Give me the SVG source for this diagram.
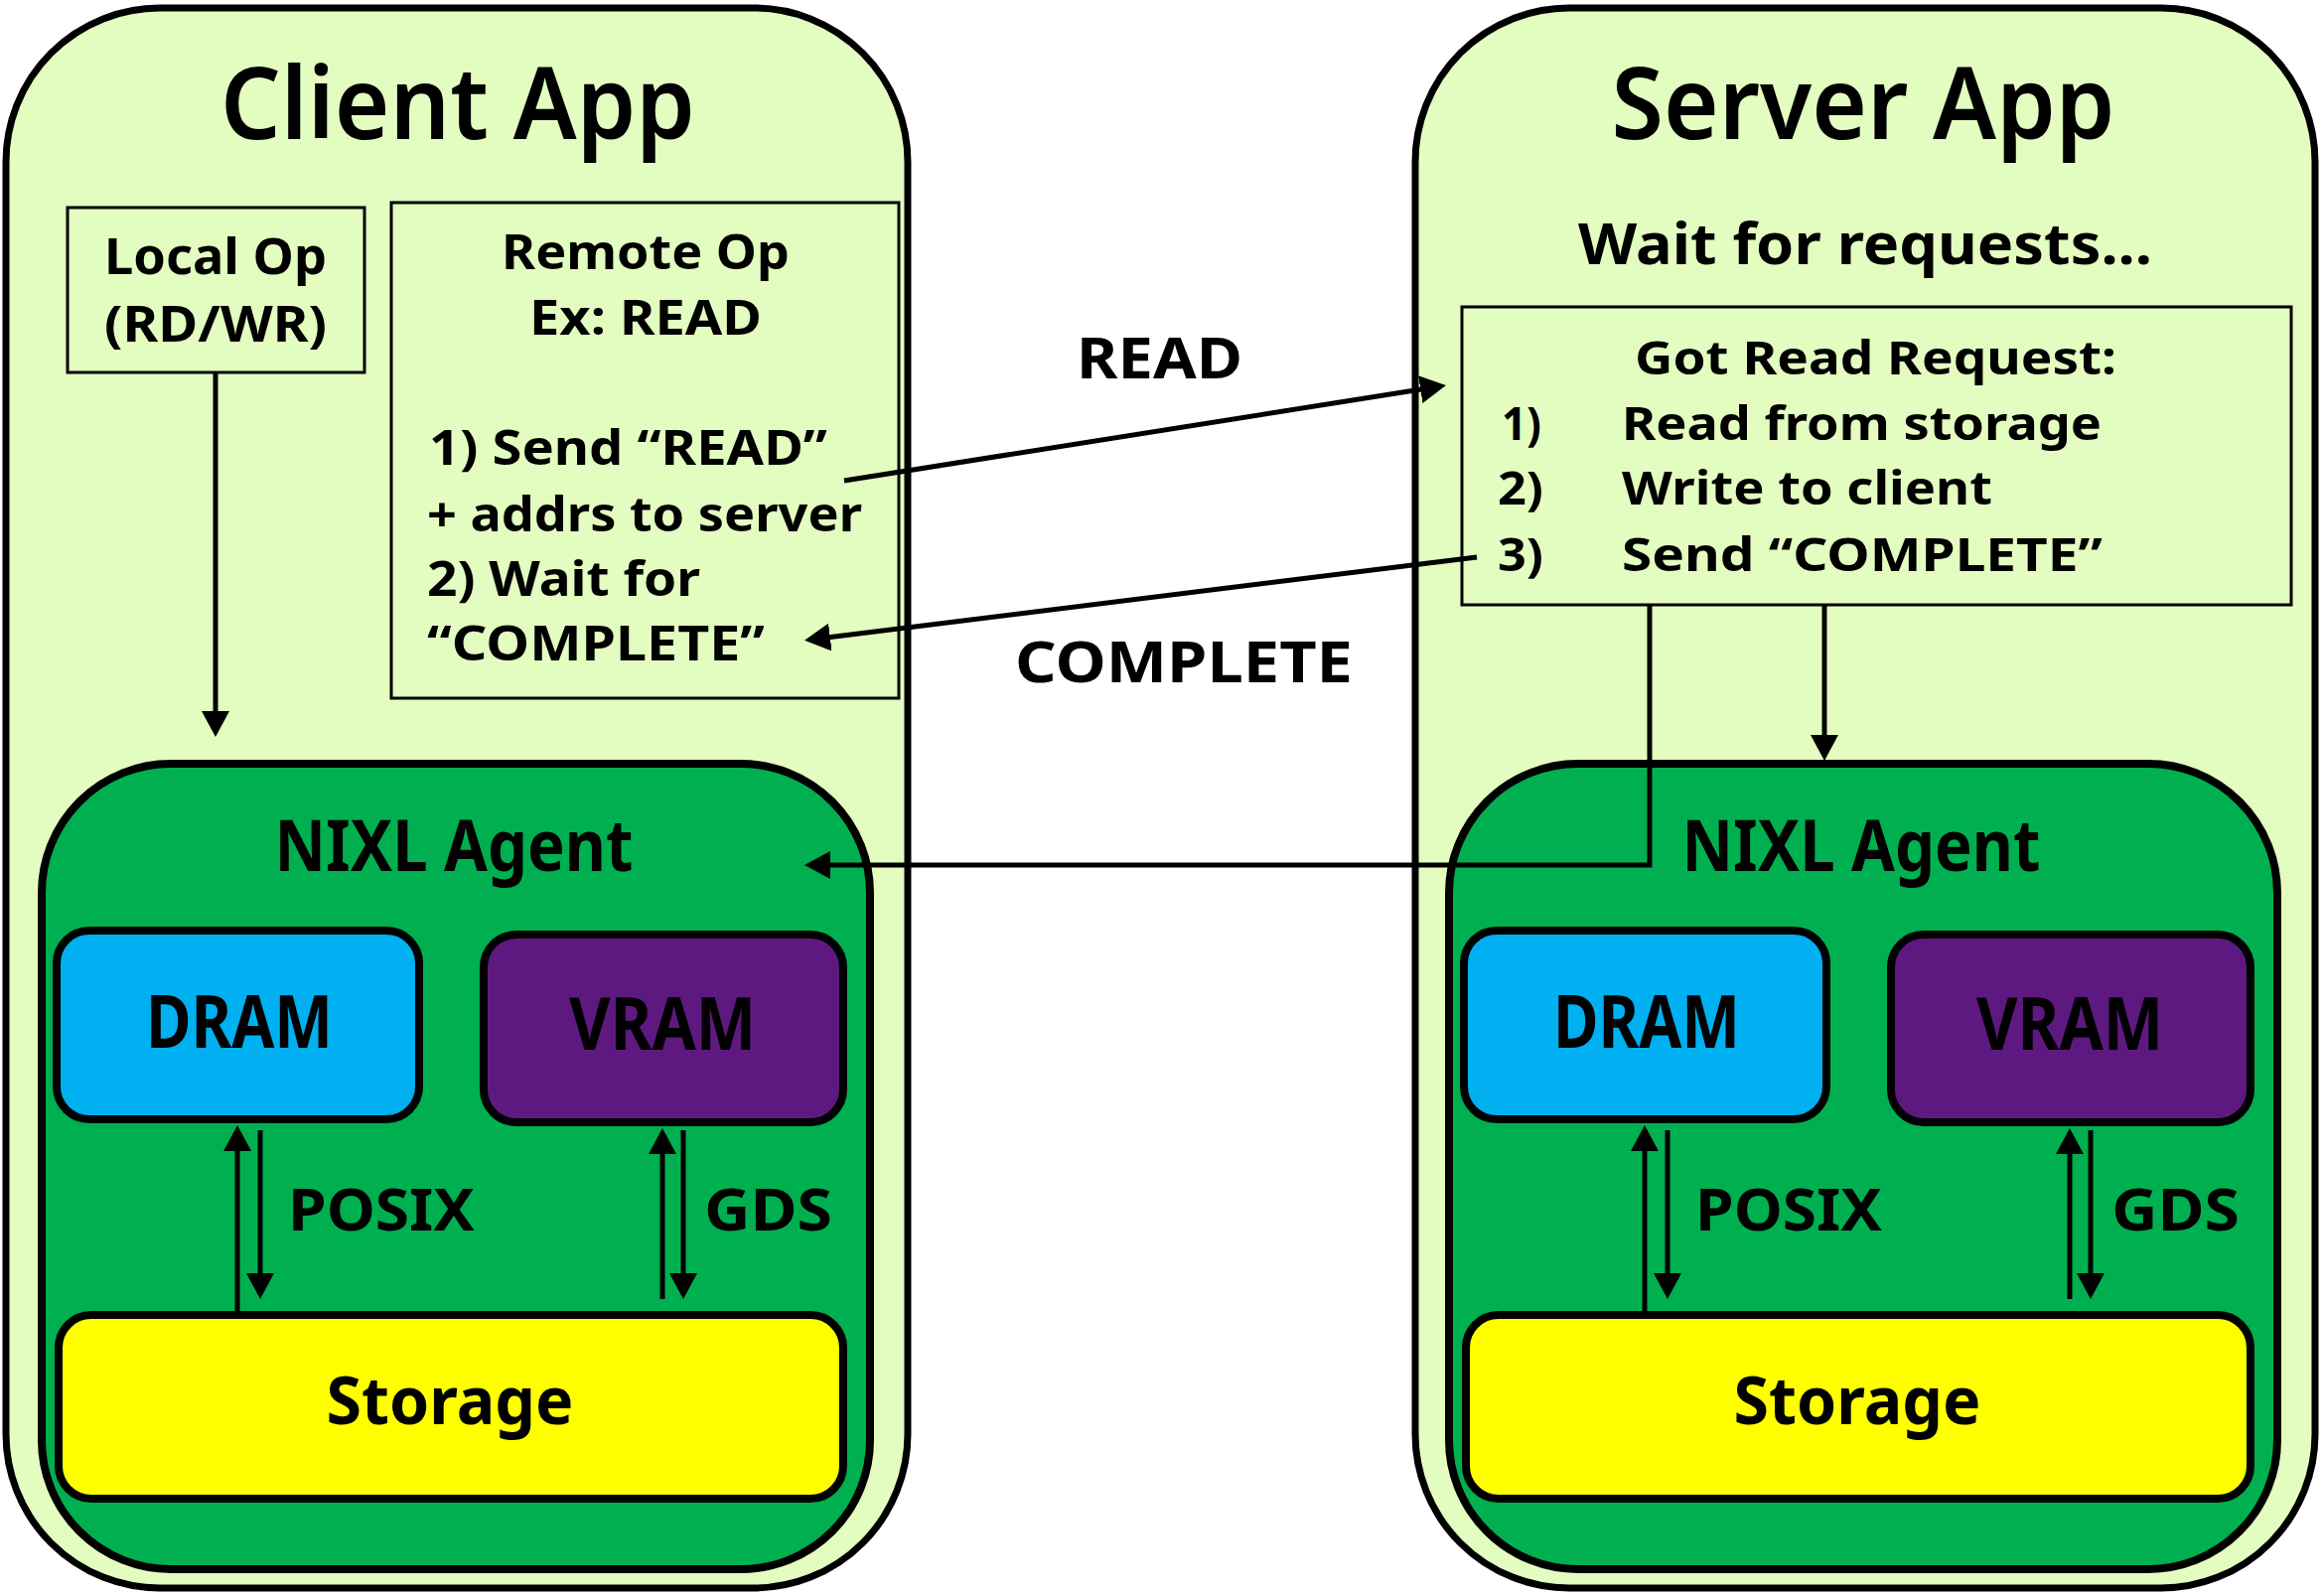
<svg xmlns="http://www.w3.org/2000/svg" width="2339" height="1607" viewBox="0 0 2339 1607">
<style>
text{font-family:"Noto Sans","Open Sans","DejaVu Sans",sans-serif;fill:#000;font-weight:700}
.app{fill:#E3FDC0;stroke:#000;stroke-width:7}
.agent{fill:#00B050;stroke:#000;stroke-width:8}
.mem{stroke:#000;stroke-width:8}
.box{fill:none;stroke:#000;stroke-width:3}
.title{font-size:102px;font-weight:600}
.c{stroke:#000;stroke-width:5;fill:none;marker-end:url(#ah)}
.m{text-anchor:middle}
</style>
<defs>
<marker id="ah" markerUnits="userSpaceOnUse" markerWidth="28" markerHeight="28" refX="20" refY="14" orient="auto">
<path d="M0,0 L26,14 L0,28 z" fill="#000"/>
</marker>
</defs>

<g id="client-app">
<rect class="app" x="6" y="8" width="908" height="1591" rx="155" ry="155"/>
<text class="title m" x="461" y="140" textLength="478" lengthAdjust="spacingAndGlyphs">Client App</text>
</g>

<g id="server-app">
<rect class="app" x="1425" y="8" width="906" height="1591" rx="155" ry="155"/>
<text class="title m" x="1876" y="140" textLength="507" lengthAdjust="spacingAndGlyphs">Server App</text>
<text class="m" x="1878" y="266" font-size="58" textLength="578" lengthAdjust="spacingAndGlyphs">Wait for requests...</text>
</g>

<g id="local-op">
<rect class="box" x="68" y="209" width="299" height="166"/>
<text class="m" x="217" y="276" font-size="51" font-weight="600" textLength="224" lengthAdjust="spacingAndGlyphs">Local Op</text>
<text class="m" x="217" y="344" font-size="51" font-weight="600" textLength="224" lengthAdjust="spacingAndGlyphs">(RD/WR)</text>
</g>

<g id="remote-op">
<rect class="box" x="394" y="204" width="511" height="499"/>
<text class="m" x="650" y="271" font-size="49" textLength="290" lengthAdjust="spacingAndGlyphs">Remote Op</text>
<text class="m" x="650" y="337" font-size="49" textLength="234" lengthAdjust="spacingAndGlyphs">Ex: READ</text>
<text x="432" y="468" font-size="49" textLength="401" lengthAdjust="spacingAndGlyphs">1) Send “READ”</text>
<text x="430" y="535" font-size="49" textLength="438" lengthAdjust="spacingAndGlyphs">+ addrs to server</text>
<text x="430" y="600" font-size="49" textLength="275" lengthAdjust="spacingAndGlyphs">2) Wait for</text>
<text x="430" y="665" font-size="49" textLength="340" lengthAdjust="spacingAndGlyphs">“COMPLETE”</text>
</g>

<g id="read-request">
<rect class="box" x="1472" y="309" width="835" height="300"/>
<text x="1646" y="377" font-size="47" textLength="485" lengthAdjust="spacingAndGlyphs">Got Read Request:</text>
<text x="1512" y="443" font-size="47" textLength="40" lengthAdjust="spacingAndGlyphs">1)</text>
<text x="1633" y="443" font-size="47" textLength="483" lengthAdjust="spacingAndGlyphs">Read from storage</text>
<text x="1508" y="508" font-size="47" textLength="46" lengthAdjust="spacingAndGlyphs">2)</text>
<text x="1633" y="508" font-size="47" textLength="373" lengthAdjust="spacingAndGlyphs">Write to client</text>
<text x="1508" y="575" font-size="47" textLength="46" lengthAdjust="spacingAndGlyphs">3)</text>
<text x="1633" y="575" font-size="47" textLength="484" lengthAdjust="spacingAndGlyphs">Send “COMPLETE”</text>
</g>

<g id="client-agent">
<rect class="agent" x="42" y="769" width="834" height="811" rx="130" ry="130"/>
<text class="m" x="457" y="877" font-size="72" font-weight="600" textLength="361" lengthAdjust="spacingAndGlyphs">NIXL Agent</text>
</g>
<g id="client-dram">
<rect class="mem" fill="#00B0F0" x="57" y="937" width="365" height="190" rx="33" ry="33"/>
<text class="m" x="241" y="1055" font-size="74" textLength="188" lengthAdjust="spacingAndGlyphs">DRAM</text>
</g>
<g id="client-vram">
<rect class="mem" fill="#5E1981" x="487" y="941" width="362" height="189" rx="33" ry="33"/>
<text class="m" x="667" y="1057" font-size="74" textLength="188" lengthAdjust="spacingAndGlyphs">VRAM</text>
</g>
<g id="client-storage">
<rect class="mem" fill="#FFFF00" x="59" y="1324" width="790" height="185" rx="33" ry="33"/>
<text class="m" x="453" y="1434" font-size="66" font-weight="600" textLength="249" lengthAdjust="spacingAndGlyphs">Storage</text>
</g>

<g id="server-agent">
<rect class="agent" x="1459" y="769" width="834" height="811" rx="130" ry="130"/>
<text class="m" x="1874" y="877" font-size="72" font-weight="600" textLength="361" lengthAdjust="spacingAndGlyphs">NIXL Agent</text>
</g>
<g id="server-dram">
<rect class="mem" fill="#00B0F0" x="1474" y="937" width="365" height="190" rx="33" ry="33"/>
<text class="m" x="1658" y="1055" font-size="74" textLength="188" lengthAdjust="spacingAndGlyphs">DRAM</text>
</g>
<g id="server-vram">
<rect class="mem" fill="#5E1981" x="1904" y="941" width="362" height="189" rx="33" ry="33"/>
<text class="m" x="2084" y="1057" font-size="74" textLength="188" lengthAdjust="spacingAndGlyphs">VRAM</text>
</g>
<g id="server-storage">
<rect class="mem" fill="#FFFF00" x="1476" y="1324" width="790" height="185" rx="33" ry="33"/>
<text class="m" x="1870" y="1434" font-size="66" font-weight="600" textLength="249" lengthAdjust="spacingAndGlyphs">Storage</text>
</g>

<g id="connectors">
<line class="c" x1="850" y1="484" x2="1450" y2="389"/>
<line class="c" x1="1487" y1="561" x2="816" y2="644"/>
<line class="c" x1="217" y1="375" x2="217" y2="736"/>
<line class="c" x1="1837" y1="609" x2="1837" y2="760"/>
<polyline class="c" points="1661,609 1661,871 816,871"/>
<line class="c" x1="239" y1="1320" x2="239" y2="1139"/>
<line class="c" x1="262" y1="1138" x2="262" y2="1302"/>
<line class="c" x1="667" y1="1308" x2="667" y2="1142"/>
<line class="c" x1="688" y1="1138" x2="688" y2="1302"/>
<line class="c" x1="1656" y1="1320" x2="1656" y2="1139"/>
<line class="c" x1="1679" y1="1138" x2="1679" y2="1302"/>
<line class="c" x1="2084" y1="1308" x2="2084" y2="1142"/>
<line class="c" x1="2105" y1="1138" x2="2105" y2="1302"/>
<text x="1084" y="381" font-size="57" textLength="167" lengthAdjust="spacingAndGlyphs">READ</text>
<text x="1022" y="687" font-size="57" textLength="340" lengthAdjust="spacingAndGlyphs">COMPLETE</text>
<text x="290" y="1239" font-size="60" textLength="188" lengthAdjust="spacingAndGlyphs">POSIX</text>
<text x="709" y="1239" font-size="60" textLength="129" lengthAdjust="spacingAndGlyphs">GDS</text>
<text x="1707" y="1239" font-size="60" textLength="188" lengthAdjust="spacingAndGlyphs">POSIX</text>
<text x="2126" y="1239" font-size="60" textLength="129" lengthAdjust="spacingAndGlyphs">GDS</text>
</g>
</svg>
